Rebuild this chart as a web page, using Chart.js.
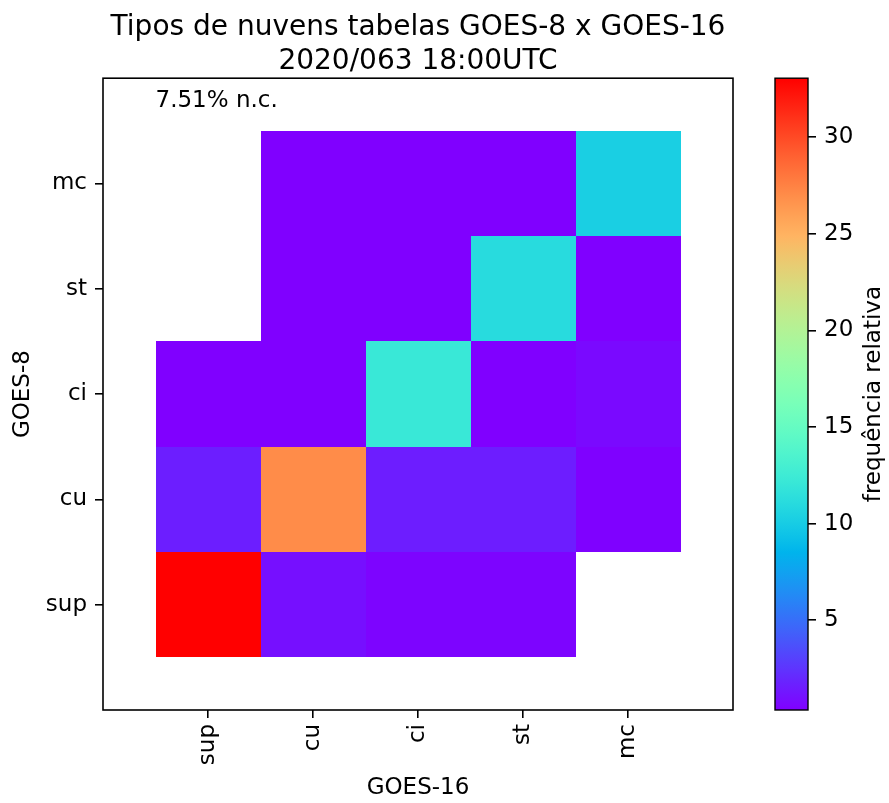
<!DOCTYPE html>
<html>
<head>
<meta charset="utf-8">
<script src="https://cdn.jsdelivr.net/npm/chart.js@4"></script>
<style>body{margin:0;background:#fff}</style>
</head>
<body>
<canvas id="tipos-diagram" width="889" height="803"></canvas>
<script>
const tipos = ['sup', 'cu', 'ci', 'st', 'mc'];
// frequência relativa por linha GOES-8 (y), colunas GOES-16 (x): sup, cu, ci, st, mc
const freqSup = [33.05, 0.95, 0.5, 0.5, null];
const freqCu = [1.58, 27.0, 1.55, 1.55, 0.4];
const freqCi = [0.35, 0.35, 12.2, 0.35, 0.7];
const freqSt = [null, 0.35, 0.35, 11.1, 0.35];
const freqMc = [null, 0.35, 0.35, 0.35, 10.2];
const cbTicks = [5, 10, 15, 20, 25, 30];
const textoNC = '7.51% n.c.';

const linhas = [freqSup, freqCu, freqCi, freqSt, freqMc];
const celulas = [];
linhas.forEach((linha, y) => linha.forEach((v, x) => {
    if (v !== null) celulas.push({x: x, y: y, v: v});
}));
const vmin = Math.min(...celulas.map(c => c.v));
const vmax = Math.max(...celulas.map(c => c.v));

// matplotlib "rainbow"
function rainbow(t) {
    t = Math.max(0, Math.min(1, t));
    const r = Math.min(1, Math.abs(2 * t - 0.5));
    const g = Math.sin(t * Math.PI);
    const b = Math.cos(t * Math.PI / 2);
    return 'rgb(' + Math.round(r * 255) + ',' + Math.round(g * 255) + ',' + Math.round(b * 255) + ')';
}

const fonte = {family: 'DejaVu Sans', size: 23};

const heatmapPlugin = {
    id: 'heatmap',
    beforeDatasetsDraw(chart) {
        const ctx = chart.ctx;
        const sx = chart.scales.x, sy = chart.scales.y;
        chart.data.datasets[0].data.forEach(c => {
            const x0 = Math.round(sx.getPixelForValue(c.x - 0.5)), x1 = Math.round(sx.getPixelForValue(c.x + 0.5));
            const y0 = Math.round(sy.getPixelForValue(c.y + 0.5)), y1 = Math.round(sy.getPixelForValue(c.y - 0.5));
            ctx.fillStyle = rainbow((c.v - vmin) / (vmax - vmin));
            ctx.fillRect(x0, y0, x1 - x0, y1 - y0);
        });
    },
    afterDraw(chart) {
        const ctx = chart.ctx;
        const a = chart.chartArea;
        const sx = chart.scales.x, sy = chart.scales.y, cb = chart.scales.cb;
        ctx.save();
        // moldura
        ctx.strokeStyle = '#000';
        ctx.lineWidth = 1.6;
        ctx.strokeRect(a.left, a.top, a.right - a.left, a.bottom - a.top);
        // texto n.c.
        ctx.fillStyle = '#000';
        ctx.font = '23px "DejaVu Sans"';
        ctx.textAlign = 'left';
        ctx.textBaseline = 'alphabetic';
        ctx.fillText(textoNC, sx.getPixelForValue(-0.5), sy.getPixelForValue(4.73));
        // barra de cores
        const top = cb.getPixelForValue(vmax), bot = cb.getPixelForValue(vmin);
        const grad = ctx.createLinearGradient(0, bot, 0, top);
        for (let i = 0; i <= 64; i++) grad.addColorStop(i / 64, rainbow(i / 64));
        ctx.fillStyle = grad;
        ctx.fillRect(cb.left - 33, top, 33, bot - top);
        ctx.lineWidth = 1.4;
        ctx.strokeRect(cb.left - 33, top, 33, bot - top);
        // rótulo da barra
        ctx.translate(cb.right - 15, (top + bot) / 2);
        ctx.rotate(-Math.PI / 2);
        ctx.textAlign = 'center';
        ctx.textBaseline = 'middle';
        ctx.fillStyle = '#000';
        ctx.fillText('frequência relativa', 0, 0);
        ctx.restore();
    }
};

Chart.defaults.font.family = 'DejaVu Sans';
Chart.defaults.color = '#000';

const chartTipos = new Chart('tipos-diagram', {
    type: 'scatter',
    data: {
        datasets: [{
            label: 'frequência relativa',
            data: celulas,
            pointRadius: 0,
            pointHoverRadius: 0
        }]
    },
    options: {
        responsive: false,
        animation: false,
        layout: {padding: 0},
        plugins: {
            legend: {display: false},
            tooltip: {enabled: false},
            title: {
                display: true,
                fullSize: false,
                text: ['Tipos de nuvens tabelas GOES-8 x GOES-16', '2020/063 18:00UTC'],
                font: {family: 'DejaVu Sans', size: 28, weight: 'normal', lineHeight: 1.2},
                color: '#000',
                padding: {top: 11, bottom: 0}
            }
        },
        scales: {
            x: {
                type: 'linear', min: -1, max: 5,
                afterBuildTicks: s => { s.ticks = tipos.map((t, i) => ({value: i})); },
                afterFit: s => { s.height = 93; },
                ticks: {
                    callback: v => tipos[v], autoSkip: false,
                    minRotation: 90, maxRotation: 90, font: fonte, color: '#000', padding: 6
                },
                grid: {drawOnChartArea: false, tickLength: 8, color: '#000', lineWidth: 1.6},
                border: {display: false},
                title: {display: true, text: 'GOES-16', font: fonte, color: '#000', padding: {top: 0, bottom: 1}}
            },
            y: {
                type: 'linear', min: -1, max: 5,
                afterBuildTicks: s => { s.ticks = tipos.map((t, i) => ({value: i})); },
                afterFit: s => { s.width = 103; },
                ticks: {callback: v => tipos[v], autoSkip: false, font: fonte, color: '#000', padding: 8},
                grid: {drawOnChartArea: false, tickLength: 8, color: '#000', lineWidth: 1.6},
                border: {display: false},
                title: {display: true, text: 'GOES-8', font: fonte, color: '#000', padding: {top: 9, bottom: 0}}
            },
            gap: {
                type: 'linear', position: 'right', min: 0, max: 1,
                ticks: {display: false},
                grid: {display: false},
                border: {display: false},
                afterFit: s => { s.width = 75; }
            },
            cb: {
                type: 'linear', position: 'right', min: vmin, max: vmax,
                afterBuildTicks: s => { s.ticks = cbTicks.map(v => ({value: v})); },
                afterFit: s => { s.width = 81; },
                ticks: {font: fonte, color: '#000', padding: 8},
                grid: {drawOnChartArea: false, tickLength: 8, color: '#000', lineWidth: 1.6},
                border: {display: false}
            }
        }
    },
    plugins: [heatmapPlugin]
});
</script>
</body>
</html>
